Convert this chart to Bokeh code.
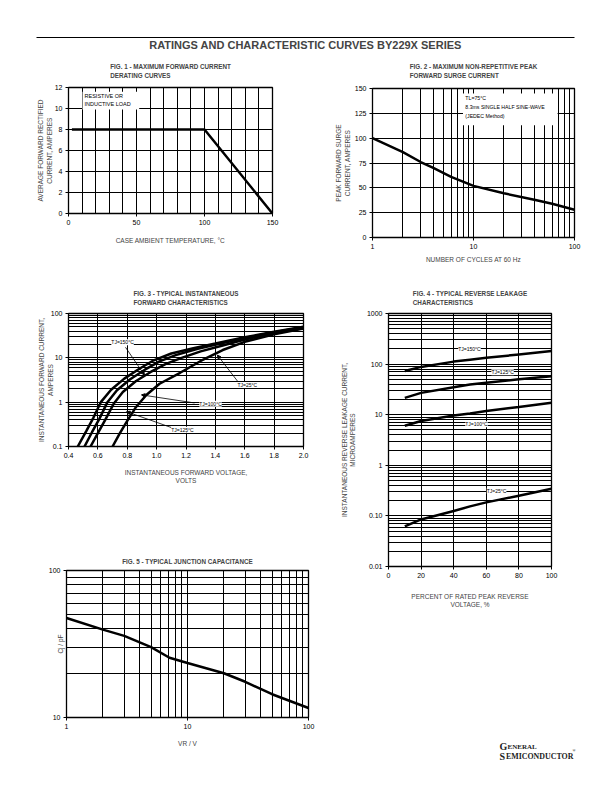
from bokeh.plotting import figure
from bokeh.models import (FixedTicker, Title, Label, Arrow, NormalHead, BoxAnnotation,
                          Range1d, LinearAxis, Spacer)
from bokeh.layouts import column, row
from bokeh.embed import file_html
from bokeh.resources import INLINE

FONT = "Liberation Sans"
SERIF = "Liberation Serif"

# ---------------- data ----------------
page_title = "RATINGS AND CHARACTERISTIC CURVES BY229X SERIES"

# Fig. 1 - derating
fig1_temp_c = [2.5, 100, 150]
fig1_current_a = [8, 8, 0]
fig1_xticks = [0, 50, 100, 150]
fig1_xgrid = [0, 10, 20, 30, 40, 50, 60, 70, 80, 90, 100, 110, 120, 130, 140, 150]
fig1_yticks = [0, 2, 4, 6, 8, 10, 12]

# Fig. 2 - surge current
fig2_cycles = [1, 2, 3, 4, 6, 10, 20, 40, 60, 100]
fig2_surge_a = [100, 86, 76, 70, 61, 52, 44.5, 38, 34, 28]
fig2_xticks = [1, 10, 100]
fig2_xgrid = [1, 2, 3, 4, 5, 6, 7, 8, 9, 10, 20, 30, 40, 50, 60, 70, 80, 90, 100]
fig2_yticks = [0, 25, 50, 75, 100, 125, 150]

# Fig. 3 - forward characteristics (V, A)
fig3_v_150 = [0.463, 0.52, 0.57, 0.62, 0.69, 0.78, 0.88, 0.98, 1.1, 1.25, 1.4, 1.6, 1.8, 2.0]
fig3_i_150 = [0.1, 0.22, 0.45, 1.0, 1.9, 3.4, 5.6, 8.8, 12.5, 16.5, 21, 29, 39, 50]
fig3_v_125 = [0.509, 0.56, 0.61, 0.665, 0.73, 0.82, 0.92, 1.02, 1.13, 1.28, 1.42, 1.6, 1.8, 2.0]
fig3_i_125 = [0.1, 0.21, 0.42, 1.0, 1.85, 3.3, 5.4, 8.3, 11.5, 16, 20.5, 28, 38, 49]
fig3_v_100 = [0.55, 0.60, 0.65, 0.71, 0.77, 0.86, 0.96, 1.06, 1.17, 1.3, 1.45, 1.6, 1.8, 2.0]
fig3_i_100 = [0.1, 0.2, 0.4, 0.95, 1.7, 3.0, 4.8, 7.2, 10, 14, 19, 26, 36, 47]
fig3_v_25 = [0.70, 0.75, 0.80, 0.86, 0.93, 1.02, 1.16, 1.3, 1.45, 1.6, 1.8, 2.0]
fig3_i_25 = [0.1, 0.2, 0.38, 0.78, 1.45, 2.6, 4.6, 8.5, 15, 23, 34, 46]
fig3_xticks = [0.4, 0.6, 0.8, 1.0, 1.2, 1.4, 1.6, 1.8, 2.0]
fig3_xlabels = ["0.4", "0.6", "0.8", "1.0", "1.2", "1.4", "1.6", "1.8", "2.0"]
fig3_yticks = [0.1, 1, 10, 100]
fig3_ylabels = ["0.1", "1", "10", "100"]

# Fig. 4 - reverse leakage (%, uA)
fig4_pct = [10, 20, 40, 50, 60, 80, 100]
fig4_i_150 = [73, 88, 112, 122, 133, 155, 181]
fig4_i_125 = [21.5, 27, 35, 39.5, 43, 50, 57.5]
fig4_i_100 = [6.05, 7.5, 9.6, 10.6, 11.8, 14.2, 17.2]
fig4_i_25 = [0.062, 0.085, 0.125, 0.154, 0.185, 0.25, 0.343]
fig4_xticks = [0, 20, 40, 60, 80, 100]
fig4_yticks = [0.01, 0.1, 1, 10, 100, 1000]
fig4_ylabels = ["0.01", "0.10", "1", "10", "100", "1000"]

# Fig. 5 - junction capacitance (V, pF)
fig5_vr = [1, 2, 3, 5, 7.1, 10, 20, 30, 50, 100]
fig5_cj = [47.5, 39.6, 35.9, 30.1, 25.5, 23.5, 20.0, 17.5, 14.4, 11.6]
fig5_xticks = [1, 10, 100]
fig5_yticks = [10, 100]


def log_grid(lo_exp, hi_exp):
    vals = []
    for e in range(lo_exp, hi_exp):
        for m in range(1, 10):
            vals.append(round(m * 10.0 ** e, 6))
    vals.append(round(10.0 ** hi_exp, 6))
    return vals


def base_fig(width, height, left, right, top, bottom, x_range, y_range,
             x_type="linear", y_type="linear"):
    p = figure(width=width, height=height, x_range=x_range, y_range=y_range,
               x_axis_type=x_type, y_axis_type=y_type, output_backend="svg",
               toolbar_location=None, title=None,
               min_border_left=left, min_border_right=right,
               min_border_top=top, min_border_bottom=bottom)
    p.outline_line_color = "black"
    p.outline_line_width = 1.3
    p.outline_line_alpha = 1.0
    p.grid.grid_line_color = "black"
    p.grid.grid_line_width = 1
    p.grid.grid_line_alpha = 1.0
    p.axis.axis_line_color = None
    p.axis.major_tick_in = 0
    p.axis.major_tick_out = 3
    p.axis.major_tick_line_color = "black"
    p.axis.minor_tick_line_color = None
    p.axis.major_label_text_font = FONT
    p.axis.major_label_text_font_size = "7px"
    p.axis.major_label_text_color = "black"
    p.axis.major_label_standoff = 3
    p.axis.axis_label_text_font = FONT
    p.axis.axis_label_text_font_size = "6.5px"
    p.axis.axis_label_text_font_style = "normal"
    p.axis.axis_label_text_color = "#444444"
    return p


def add_title(p, text, standoff):
    p.add_layout(Title(text=text, align="center", text_font=FONT, text_font_size="6.3px",
                       text_font_style="bold", standoff=standoff, text_line_height=1.25),
                 "above")


def tag(p, x, y, text, size="5px", align="center", bg=True):
    kw = dict(x=x, y=y, text=text, text_font=FONT, text_font_size=size,
              text_align=align, text_baseline="middle", text_color="black")
    if bg:
        kw.update(background_fill_color="white", background_fill_alpha=1.0)
    p.add_layout(Label(**kw))


def wrap(p):
    return column(p)


# ---------------- header ----------------
hdr = figure(width=596, height=51, x_range=Range1d(0, 1), y_range=Range1d(0, 1),
             min_border_left=29, min_border_right=29, min_border_top=37, min_border_bottom=0,
             toolbar_location=None, output_backend="svg", title=None,
             x_axis_location="below", y_axis_location=None)
hdr.add_layout(LinearAxis(), "above")
hdr.xgrid.visible = False
hdr.ygrid.visible = False
hdr.outline_line_color = None
for ax in hdr.xaxis:
    ax.ticker = FixedTicker(ticks=[])
    ax.axis_line_color = "black"
    ax.axis_line_width = 1.2
    ax.major_tick_line_color = None
    ax.minor_tick_line_color = None
    ax.major_label_text_font_size = "0px"
hdr.add_layout(Label(x=0.5, y=0.5, text=page_title, text_font=FONT, text_font_size="11px",
                     text_font_style="bold", text_align="center", text_baseline="middle"))

# ---------------- Fig. 1 ----------------
p1 = base_fig(298, 228, 61, 33, 35, 66, Range1d(0, 150), Range1d(0, 12))
add_title(p1, "FIG. 1 - MAXIMUM FORWARD CURRENT\nDERATING CURVES", 18)
p1.xaxis.ticker = FixedTicker(ticks=fig1_xticks)
p1.xgrid.ticker = FixedTicker(ticks=fig1_xgrid)
p1.yaxis.ticker = FixedTicker(ticks=fig1_yticks)
p1.ygrid.ticker = FixedTicker(ticks=fig1_yticks)
p1.xaxis.axis_label = "CASE AMBIENT TEMPERATURE, °C"
p1.xaxis.axis_label_standoff = 9
p1.yaxis.axis_label = "AVERAGE FORWARD RECTIFIED\nCURRENT, AMPERES"
p1.yaxis.axis_label_standoff = -1
p1.line(fig1_temp_c, fig1_current_a, line_color="black", line_width=2.5)
p1.add_layout(BoxAnnotation(left=10.3, right=52, bottom=9.9, top=11.6,
                            fill_color="white", fill_alpha=1.0, line_color=None))
tag(p1, 11.8, 11.15, "RESISTIVE OR", size="5.5px", align="left", bg=False)
tag(p1, 11.8, 10.4, "INDUCTIVE LOAD", size="5.5px", align="left", bg=False)

# ---------------- Fig. 2 ----------------
p2 = base_fig(298, 228, 67, 29, 36, 42, Range1d(1, 100), Range1d(0, 150), x_type="log")
add_title(p2, "FIG. 2 - MAXIMUM NON-REPETITIVE PEAK\nFORWARD SURGE CURRENT", 19)
p2.xaxis.ticker = FixedTicker(ticks=fig2_xticks)
p2.xaxis.major_label_overrides = {1: "1", 10: "10", 100: "100"}
p2.xgrid.ticker = FixedTicker(ticks=fig2_xgrid)
p2.yaxis.ticker = FixedTicker(ticks=fig2_yticks)
p2.ygrid.ticker = FixedTicker(ticks=fig2_yticks)
p2.xaxis.axis_label = "NUMBER OF CYCLES AT 60 Hz"
p2.xaxis.axis_label_standoff = 4
p2.yaxis.axis_label = "PEAK FORWARD SURGE\nCURRENT, AMPERES"
p2.yaxis.axis_label_standoff = 1
p2.line(fig2_cycles, fig2_surge_a, line_color="black", line_width=2.5)
p2.add_layout(BoxAnnotation(left=7.87, right=68, bottom=113, top=145,
                            fill_color="white", fill_alpha=1.0, line_color=None))
tag(p2, 8.3, 140, "TL=75°C", size="5.2px", align="left", bg=False)
tag(p2, 8.3, 131, "8.3ms SINGLE HALF SINE-WAVE", size="5.2px", align="left", bg=False)
tag(p2, 8.3, 122, "(JEDEC Method)", size="5.2px", align="left", bg=False)

# ---------------- Fig. 3 ----------------
p3 = base_fig(320, 270, 61, 24, 33, 103, Range1d(0.4, 2.0), Range1d(0.1, 100), y_type="log")
add_title(p3, "FIG. 3 - TYPICAL INSTANTANEOUS\nFORWARD CHARACTERISTICS", 16)
p3.xaxis.ticker = FixedTicker(ticks=fig3_xticks)
p3.xaxis.major_label_overrides = dict(zip(fig3_xticks, fig3_xlabels))
p3.xgrid.ticker = FixedTicker(ticks=fig3_xticks)
p3.yaxis.ticker = FixedTicker(ticks=fig3_yticks)
p3.yaxis.major_label_overrides = dict(zip(fig3_yticks, fig3_ylabels))
p3.ygrid.ticker = FixedTicker(ticks=log_grid(-1, 2))
p3.xaxis.axis_label = "INSTANTANEOUS FORWARD VOLTAGE,\nVOLTS"
p3.xaxis.axis_label_standoff = 8
p3.yaxis.axis_label = "INSTANTANEOUS FORWARD CURRENT,\nAMPERES"
p3.yaxis.axis_label_standoff = -6
for vv, ii in [(fig3_v_150, fig3_i_150), (fig3_v_125, fig3_i_125),
               (fig3_v_100, fig3_i_100), (fig3_v_25, fig3_i_25)]:
    p3.line(vv, ii, line_color="black", line_width=2.5)
for xs, ys, xe, ye in [(0.788, 17.3, 0.917, 4.1), (1.55, 3.0, 1.414, 11.5),
                       (1.258, 0.96, 0.897, 1.46), (1.101, 0.267, 0.795, 0.61)]:
    p3.add_layout(Arrow(end=NormalHead(size=3.5, fill_color="black", line_color="black"),
                        x_start=xs, y_start=ys, x_end=xe, y_end=ye,
                        line_color="black", line_width=0.8))
tag(p3, 0.768, 22.4, "TJ=150°C")
tag(p3, 1.618, 2.44, "TJ=25°C")
tag(p3, 1.367, 0.92, "TJ=100°C")
tag(p3, 1.176, 0.24, "TJ=125°C")

# ---------------- Fig. 5 ----------------
p5 = base_fig(320, 234, 59, 19, 21, 66, Range1d(1, 100), Range1d(10, 100),
              x_type="log", y_type="log")
add_title(p5, "FIG. 5 - TYPICAL JUNCTION CAPACITANCE", 12)
p5.xaxis.ticker = FixedTicker(ticks=fig5_xticks)
p5.xaxis.major_label_overrides = {1: "1", 10: "10", 100: "100"}
p5.xgrid.ticker = FixedTicker(ticks=log_grid(0, 2))
p5.yaxis.ticker = FixedTicker(ticks=fig5_yticks)
p5.yaxis.major_label_overrides = {10: "10", 100: "100"}
p5.ygrid.ticker = FixedTicker(ticks=log_grid(1, 2))
p5.xaxis.axis_label = "VR / V"
p5.xaxis.axis_label_standoff = 8
p5.yaxis.axis_label = "Cj / pF"
p5.yaxis.axis_label_standoff = -18
p5.line(fig5_vr, fig5_cj, line_color="black", line_width=2.5)

# ---------------- Fig. 4 ----------------
p4 = base_fig(276, 340, 61, 52, 33, 53, Range1d(0, 100), Range1d(0.01, 1000), y_type="log")
add_title(p4, "FIG. 4 - TYPICAL REVERSE LEAKAGE\nCHARACTERISTICS", 16)
p4.xaxis.ticker = FixedTicker(ticks=fig4_xticks)
p4.xgrid.ticker = FixedTicker(ticks=fig4_xticks)
p4.yaxis.ticker = FixedTicker(ticks=fig4_yticks)
p4.yaxis.major_label_overrides = dict(zip(fig4_yticks, fig4_ylabels))
p4.ygrid.ticker = FixedTicker(ticks=log_grid(-2, 3))
p4.xaxis.axis_label = "PERCENT OF RATED PEAK REVERSE\nVOLTAGE, %"
p4.xaxis.axis_label_standoff = 12
p4.yaxis.axis_label = "INSTANTANEOUS REVERSE LEAKAGE CURRENT,\nMICROAMPERES"
p4.yaxis.axis_label_standoff = 8
for ii in [fig4_i_150, fig4_i_125, fig4_i_100, fig4_i_25]:
    p4.line(fig4_pct, ii, line_color="black", line_width=2.5)
tag(p4, 49.7, 195, "TJ=150°C")
tag(p4, 70, 69, "TJ=125°C")
tag(p4, 54, 6.5, "TJ=100°C")
tag(p4, 66.3, 0.313, "TJ=25°C")

# ---------------- logo ----------------
logo = figure(width=276, height=164, x_range=Range1d(0, 276), y_range=Range1d(164, 0),
              min_border=0, toolbar_location=None, output_backend="svg", title=None,
              x_axis_location=None, y_axis_location=None)
logo.xgrid.visible = False
logo.ygrid.visible = False
logo.outline_line_color = None
for x, y, t, s in [(172, 127, "G", "10px"), (180, 127, "ENERAL", "7px"),
                   (172, 137, "S", "10px"), (178.5, 137, "EMICONDUCTOR", "7.9px"),
                   (245, 131, "®", "4px")]:
    logo.add_layout(Label(x=x, y=y, text=t, text_font=SERIF, text_font_size=s,
                          text_font_style="bold", text_align="left",
                          text_baseline="alphabetic", text_color="#222222"))

body = column(wrap(hdr),
              row(wrap(p1), wrap(p2)),
              row(column(wrap(p3), wrap(p5)), column(wrap(p4), wrap(logo))))
layout = row(Spacer(width=7, height=10), body)

open("out.html", "w").write(file_html(layout, INLINE))
